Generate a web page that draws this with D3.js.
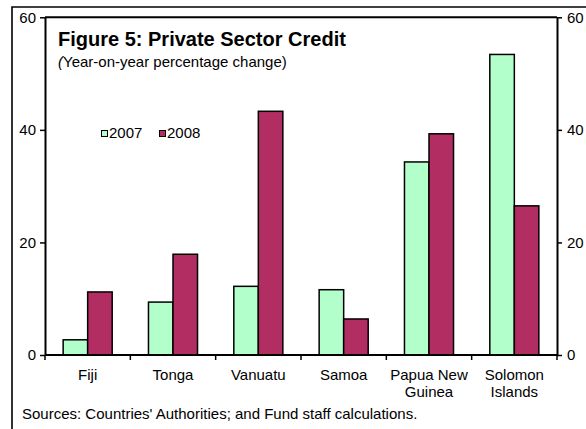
<!DOCTYPE html>
<html>
<head>
<meta charset="utf-8">
<script src="https://cdn.jsdelivr.net/npm/d3@7"></script>
<style>
  html, body { margin: 0; padding: 0; background: #fff; }
  svg { display: block; font-family: "Liberation Sans", Arial, sans-serif; }
</style>
</head>
<body>
<svg id="chart" width="586" height="429"></svg>
<script>
// Private sector credit growth, year-on-year percent change
const categories = [["Fiji"], ["Tonga"], ["Vanuatu"], ["Samoa"], ["Papua New", "Guinea"], ["Solomon", "Islands"]];
const seriesNames = ["2007", "2008"];
const values2007 = [2.7, 9.4, 12.2, 11.6, 34.3, 53.4];
const values2008 = [11.2, 17.9, 43.3, 6.4, 39.3, 26.5];
const yTicks = [0, 20, 40, 60];
const seriesColors = ["#b3ffcc", "#b22e62"];

const svg = d3.select("#chart");
const plot = { left: 45, right: 557, top: 17.3, bottom: 355 };

const catKeys = categories.map(c => c.join(" "));
const x0 = d3.scaleBand().domain(catKeys).range([plot.left, plot.right]).padding(0);
const x1 = d3.scaleBand().domain(seriesNames).range([0, x0.bandwidth()])
  .paddingInner(0).paddingOuter(0.74);
const y = d3.scaleLinear().domain([0, 60]).range([plot.bottom, plot.top]);

// outer frame (runs off the right and bottom edges)
svg.append("path")
  .attr("d", "M12,440 L12,7 L600,7")
  .attr("fill", "none").attr("stroke", "#000").attr("stroke-width", 1.6);

// bars
const rows = catKeys.map((k, i) => ({ key: k, vals: [values2007[i], values2008[i]] }));
const groups = svg.append("g").selectAll("g").data(rows).join("g")
  .attr("transform", d => `translate(${x0(d.key)},0)`);
groups.selectAll("rect")
  .data(d => d.vals.map((v, j) => ({ s: seriesNames[j], v, j })))
  .join("rect")
  .attr("x", d => x1(d.s))
  .attr("width", x1.bandwidth())
  .attr("y", d => y(d.v))
  .attr("height", d => y(0) - y(d.v))
  .attr("fill", d => seriesColors[d.j])
  .attr("stroke", "#000").attr("stroke-width", 1.5);

// plot area top border
svg.append("line")
  .attr("x1", plot.left).attr("x2", plot.right)
  .attr("y1", plot.top).attr("y2", plot.top)
  .attr("stroke", "#000").attr("stroke-width", 2);

// left and right value axes
const axisStyle = g => {
  g.select(".domain").attr("stroke", "#000").attr("stroke-width", 2);
  g.selectAll(".tick line").attr("stroke", "#000").attr("stroke-width", 1.5);
  g.selectAll(".tick text").attr("fill", "#000")
    .style("font-size", "15px").style("font-family", "Liberation Sans, Arial, sans-serif");
};
svg.append("g").attr("transform", `translate(${plot.left},0)`)
  .call(d3.axisLeft(y).tickValues(yTicks).tickSize(5).tickPadding(4).tickSizeOuter(0))
  .call(axisStyle);
svg.append("g").attr("transform", `translate(${plot.right},0)`)
  .call(d3.axisRight(y).tickValues(yTicks).tickSize(5).tickPadding(5).tickSizeOuter(0))
  .call(axisStyle);

// category axis: ticks at band boundaries
const xAxis = svg.append("g");
xAxis.append("line")
  .attr("x1", plot.left).attr("x2", plot.right)
  .attr("y1", plot.bottom).attr("y2", plot.bottom)
  .attr("stroke", "#000").attr("stroke-width", 2);
const boundaries = catKeys.map(k => x0(k)).concat([plot.right]);
xAxis.selectAll("line.tk").data(boundaries).join("line").attr("class", "tk")
  .attr("x1", d => d).attr("x2", d => d)
  .attr("y1", plot.bottom).attr("y2", plot.bottom + 5)
  .attr("stroke", "#000").attr("stroke-width", 1.5);
xAxis.selectAll("text.cat").data(categories).join("text").attr("class", "cat")
  .attr("text-anchor", "middle")
  .attr("font-size", 15)
  .attr("x", (d, i) => x0(catKeys[i]) + x0.bandwidth() / 2)
  .attr("y", 380)
  .selectAll("tspan").data(d => d).join("tspan")
  .attr("x", function () { return d3.select(this.parentNode).attr("x"); })
  .attr("dy", (d, i) => i === 0 ? 0 : 17)
  .text(d => d);

// title and subtitle
svg.append("text")
  .attr("x", 58).attr("y", 45.5)
  .attr("font-size", 20).attr("font-weight", "bold")
  .text("Figure 5: Private Sector Credit");
const sub = svg.append("text").attr("x", 58).attr("y", 67).attr("font-size", 15);
sub.append("tspan").attr("font-style", "italic").text("(");
sub.append("tspan").text("Year-on-year percentage change)");

// legend
const legend = svg.append("g");
const legendX = [101.5, 159.5];
seriesNames.forEach((name, i) => {
  legend.append("rect")
    .attr("x", legendX[i]).attr("y", 130.5)
    .attr("width", 6).attr("height", 6)
    .attr("fill", seriesColors[i]).attr("stroke", "#000").attr("stroke-width", 1);
  legend.append("text")
    .attr("x", legendX[i] + 7.5).attr("y", 137.5)
    .attr("font-size", 15)
    .text(name);
});

// source note
svg.append("text")
  .attr("x", 22).attr("y", 419)
  .attr("font-size", 15)
  .text("Sources: Countries' Authorities; and Fund staff calculations.");
</script>
</body>
</html>
